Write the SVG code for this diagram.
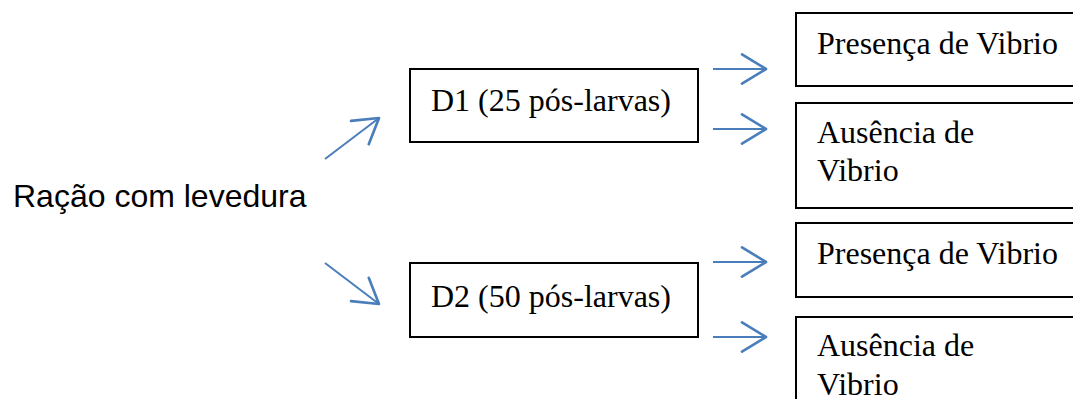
<svg xmlns="http://www.w3.org/2000/svg" width="1073" height="399" viewBox="0 0 1073 399">
  <style>
    .box { fill: #ffffff; stroke: #000000; stroke-width: 2; }
    .serif { font-family: "Liberation Serif", "Times New Roman", serif; font-size: 32px; fill: #000000; }
    .sans { font-family: "Liberation Sans", Arial, sans-serif; font-size: 32px; fill: #000000; }
    .link { stroke: #4a7ebb; stroke-width: 2; fill: none; marker-end: url(#open-arrow); }
  </style>
  <defs>
    <marker id="open-arrow" markerUnits="userSpaceOnUse" markerWidth="40" markerHeight="40" viewBox="-22 -15 26 30" refX="0" refY="0" orient="auto">
      <path d="M -18 -11 L 0 0 L -18 11" fill="none" stroke="#4a7ebb" stroke-width="2" stroke-linecap="round" stroke-linejoin="round"/>
    </marker>
  </defs>

  <rect width="1073" height="399" fill="#ffffff"/>

  <!-- source label -->
  <g id="racao">
    <text class="sans" x="13" y="207">Ração com levedura</text>
  </g>

  <!-- dose groups -->
  <g id="d1">
    <rect class="box" x="410" y="69" width="288" height="73"/>
    <text class="serif" x="431" y="111">D1 (25 pós-larvas)</text>
  </g>
  <g id="d2">
    <rect class="box" x="410" y="263" width="288" height="74"/>
    <text class="serif" x="431" y="307">D2 (50 pós-larvas)</text>
  </g>

  <!-- outcomes -->
  <g id="d1-presenca">
    <rect class="box" x="796" y="13" width="300" height="73"/>
    <text class="serif" x="817" y="54">Presença de Vibrio</text>
  </g>
  <g id="d1-ausencia">
    <rect class="box" x="796" y="103" width="300" height="105"/>
    <text class="serif" x="817" y="143">Ausência de</text>
    <text class="serif" x="817" y="181">Vibrio</text>
  </g>
  <g id="d2-presenca">
    <rect class="box" x="796" y="223" width="300" height="74"/>
    <text class="serif" x="817" y="264">Presença de Vibrio</text>
  </g>
  <g id="d2-ausencia">
    <rect class="box" x="796" y="317" width="300" height="110"/>
    <text class="serif" x="817" y="356">Ausência de</text>
    <text class="serif" x="817" y="395">Vibrio</text>
  </g>

  <!-- connectors -->
  <g id="connectors">
    <line class="link" x1="325" y1="159" x2="379" y2="118"/>
    <line class="link" x1="325" y1="263" x2="379" y2="304"/>
    <line class="link" x1="713" y1="69" x2="766" y2="69"/>
    <line class="link" x1="713" y1="129" x2="766" y2="129"/>
    <line class="link" x1="713" y1="262" x2="766" y2="262"/>
    <line class="link" x1="713" y1="337" x2="766" y2="337"/>
  </g>
</svg>
